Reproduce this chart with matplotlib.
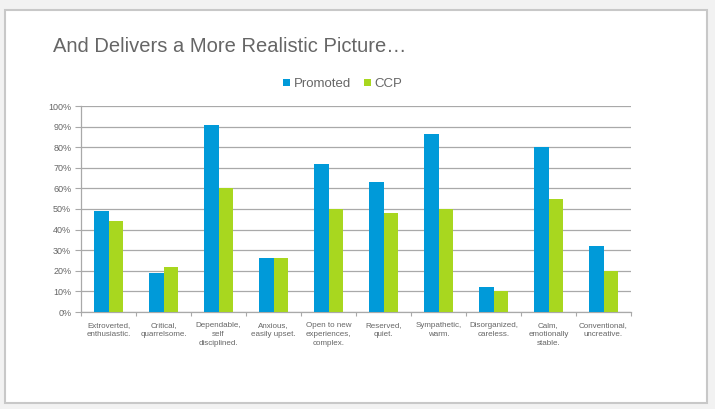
import matplotlib.pyplot as plt
import numpy as np
from matplotlib.patches import Rectangle

categories = ["Extroverted,\nenthusiastic.", "Critical,\nquarrelsome.", "Dependable,\nself\ndisciplined.",
              "Anxious,\neasily upset.", "Open to new\nexperiences,\ncomplex.", "Reserved,\nquiet.",
              "Sympathetic,\nwarm.", "Disorganized,\ncareless.", "Calm,\nemotionally\nstable.",
              "Conventional,\nuncreative."]
promoted = [49, 19, 91, 26, 72, 63, 86.5, 12, 80, 32]
ccp = [44, 22, 60, 26, 50, 48, 50, 10, 55, 20]

blue = "#009ad9"
green = "#a8d71f"
grid_col = "#a9a9a9"
txt_col = "#666666"

fig = plt.figure(figsize=(7.15, 4.09), dpi=100)
fig.patch.set_facecolor("#f2f2f2")

# slide panel behind everything
panel = Rectangle((5 / 715, 1 - 403 / 409), 702 / 715, 393 / 409, transform=fig.transFigure,
                  facecolor="white", edgecolor="#c8c8c8", linewidth=1.5, zorder=-5)
fig.patches.append(panel)

fig.text(53 / 715, 1 - 46 / 409, "And Delivers a More Realistic Picture\u2026", fontsize=14.5,
         color="#666666", va="center", ha="left", family="Liberation Sans")

ax = fig.add_axes([81 / 715, 1 - 312 / 409, 550 / 715, 206 / 409])
ax.set_facecolor("none")
x = np.arange(len(categories))
w = 0.27
ax.bar(x - w / 2, promoted, w, color=blue, label="Promoted", zorder=3)
ax.bar(x + w / 2, ccp, w, color=green, label="CCP", zorder=3)

ax.set_xlim(-0.5, len(categories) - 0.5)
ax.set_ylim(0, 100)
ax.set_yticks(range(0, 101, 10))
ax.set_yticklabels([f"{v}%" for v in range(0, 101, 10)], fontsize=6.5, color=txt_col,
                   family="Liberation Sans")
ax.yaxis.grid(True, color=grid_col, linewidth=0.9)
ax.set_axisbelow(True)

ax.set_xticks(np.arange(-0.5, len(categories), 1), minor=False)
ax.set_xticklabels([])
ax.set_xticks(x, minor=True)
ax.set_xticklabels(categories, minor=True, fontsize=5.8, color=txt_col, linespacing=1.45,
                   family="Liberation Sans", va="top")
ax.tick_params(axis="x", which="major", length=3, color=grid_col)
ax.tick_params(axis="x", which="minor", length=0, pad=7)
ax.tick_params(axis="y", length=4, color=grid_col, pad=3)

for side in ["top", "right"]:
    ax.spines[side].set_visible(False)
for side in ["left", "bottom"]:
    ax.spines[side].set_color(grid_col)
    ax.spines[side].set_linewidth(0.9)

leg = fig.legend(loc="center", bbox_to_anchor=(343 / 715, 1 - 84 / 409), ncol=2, frameon=False,
                 handlelength=0.5, handleheight=0.5, handletextpad=0.3,
                 columnspacing=1.0, prop={"family": "Liberation Sans", "size": 9.5})
for t in leg.get_texts():
    t.set_color(txt_col)

fig.savefig("out.png", dpi=100, facecolor=fig.get_facecolor())
